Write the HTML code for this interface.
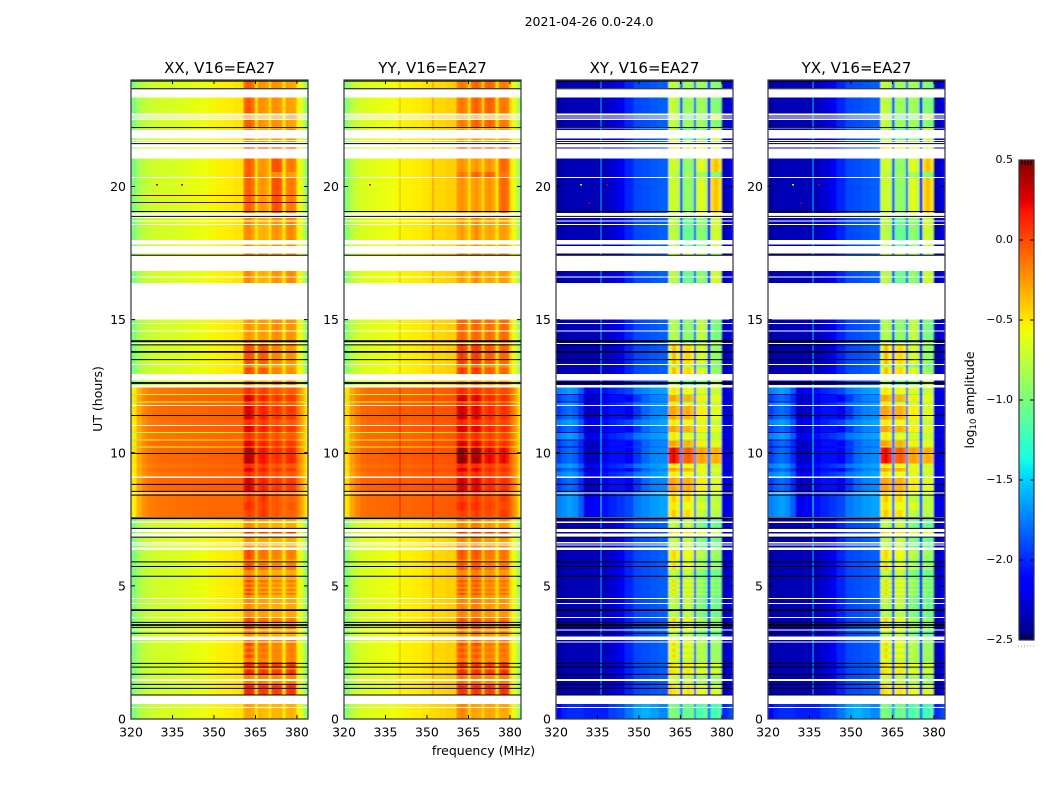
<!DOCTYPE html>
<html><head><meta charset="utf-8"><title>2021-04-26 0.0-24.0</title>
<style>
html,body{margin:0;padding:0;background:#fff;width:1050px;height:800px;overflow:hidden}
svg{display:block}
text{font-family:"DejaVu Sans","Liberation Sans",sans-serif;fill:#000}
</style></head>
<body>
<svg id="fig" width="1050" height="800" viewBox="0 0 1050 800" xmlns="http://www.w3.org/2000/svg">
<defs><filter id="soften" x="-2%" y="-2%" width="104%" height="104%"><feGaussianBlur stdDeviation="0.8 0.2"/></filter></defs>
<text x="589" y="26" font-size="12.5" text-anchor="middle">2021-04-26 0.0-24.0</text>
<text x="483.5" y="755" font-size="12.5" text-anchor="middle">frequency (MHz)</text>
<text transform="translate(102,399) rotate(-90)" font-size="12.5" text-anchor="middle">UT (hours)</text>
<text transform="translate(974,400) rotate(-90)" font-size="12.5" text-anchor="middle">log<tspan font-size="8.5" dy="2">10</tspan><tspan dy="-2"> amplitude</tspan></text>
</svg>
<script>
// ---- categories ----
const panelTitles = ["XX, V16=EA27","YY, V16=EA27","XY, V16=EA27","YX, V16=EA27"];
// channel edges, MHz
const channelEdges = [320,322,324,326,328,330,333,336,339,342,345,348,351,354,357,360.7,
  362,363.4,364.8,365.8,367.2,368.6,369.9,370.6,372,373.4,374.8,375.9,377.2,378.6,379.9,381,382,383,384];
const xTickLabels = [320,335,350,365,380];
const yTickLabels = [0,5,10,15,20];
const cbarTickLabels = [0.5,0,-0.5,-1,-1.5,-2,-2.5];

// ---- values: log10 amplitude in hundredths of a dex ----
// continuum: 15 channels below 360.7 MHz, then 4 channels above 379.9 MHz
// base index 0 quiet, 1 daytime, 2 faint, 3 daytime dim
const xxBase = [
 [-100,-84,-76,-72,-70,-68,-67,-65,-63,-61,-59,-56,-54,-52,-50,-54,-62,-76,-96],
 [-50,-30,-19,-14,-12,-11,-10,-9,-9,-8,-8,-7,-7,-6,-6,-14,-24,-34,-48],
 [-100,-84,-76,-72,-70,-68,-67,-65,-63,-61,-59,-56,-54,-52,-50,-54,-62,-76,-96],
 [-53,-33,-22,-17,-15,-14,-13,-12,-12,-11,-11,-10,-10,-9,-9,-17,-27,-37,-51]];
const yyBase = [
 [-96,-78,-70,-66,-64,-62,-60,-58,-56,-54,-52,-50,-47,-45,-43,-48,-58,-72,-92],
 [-46,-26,-16,-10,-8,-8,-7,-6,-6,-6,-5,-4,-4,-3,-2,-8,-18,-30,-46],
 [-96,-78,-70,-66,-64,-62,-60,-58,-56,-54,-52,-50,-47,-45,-43,-48,-58,-72,-92],
 [-49,-29,-19,-13,-11,-11,-10,-9,-9,-9,-8,-7,-7,-6,-5,-11,-21,-33,-49]];
const xyBase = [
 [-242,-238,-236,-236,-236,-236,-236,-234,-228,-220,-202,-192,-190,-187,-184,-240,-235,-230,-215],
 [-195,-185,-180,-185,-200,-232,-232,-220,-208,-208,-218,-197,-182,-174,-172,-225,-228,-228,-222],
 [-215,-205,-200,-200,-200,-205,-205,-205,-195,-190,-178,-165,-160,-165,-172,-205,-200,-195,-190],
 [-175,-170,-165,-170,-185,-222,-215,-208,-202,-197,-192,-177,-172,-167,-164,-225,-225,-225,-218]];
// which continuum each spectrum uses
const spectrumBase = [2,0,0,0,0,3,1,3,1,0,0,0,0,0];
// subband values: 3 channels, gap, 3 channels, gap, 3 channels, gap, 3 channels
const xxBands = [
 [-30,-28,-32,-52,-34,-36,-38,-52,-34,-36,-34,-52,-34,-32,-36],
 [8,12,6,-50,2,6,2,-50,2,5,0,-50,2,8,6],
 [-20,-15,-22,-52,-18,-20,-22,-52,-22,-20,-24,-52,-22,-18,-20],
 [-5,2,-8,-52,-15,-12,-15,-52,-20,-18,-22,-52,-20,-15,-18],
 [-24,-20,-26,-52,-30,-28,-30,-52,-34,-32,-34,-52,-32,-30,-32],
 [-4,5,0,-14,2,10,2,-14,-6,-2,-8,-14,-10,-8,-10],
 [22,28,20,-12,10,15,8,-12,2,8,4,-12,2,6,4],
 [5,10,4,-14,0,5,0,-14,-6,-2,-6,-14,-8,-4,-6],
 [32,38,28,-8,15,20,12,-8,5,10,6,-8,8,12,8],
 [-28,-24,-28,-52,-28,-26,-30,-52,-24,-20,-24,-52,-24,-22,-26],
 [-22,-20,-28,-52,-34,-32,-36,-52,-26,-22,-28,-52,-22,-18,-24],
 [-10,-6,-12,-50,-26,-24,-28,-50,-4,0,-6,-50,-18,-14,-18],
 [-8,-4,-12,-50,-22,-24,-28,-50,-22,-22,-26,-50,-26,-28,-30],
 [-4,0,-6,-50,-8,-4,-10,-50,-20,-18,-22,-50,-24,-22,-26]];
const yyBands = [
 [-22,-18,-22,-48,-28,-30,-32,-48,-30,-28,-30,-48,-32,-30,-32],
 [4,10,4,-46,2,8,2,-46,0,6,0,-46,2,8,4],
 [-18,-12,-20,-46,-16,-14,-20,-46,-22,-20,-24,-46,-20,-16,-20],
 [-8,-2,-10,-46,-8,-2,-10,-46,-16,-14,-18,-46,-14,-12,-16],
 [-22,-18,-24,-48,-18,-16,-22,-48,-26,-24,-28,-48,-26,-24,-28],
 [0,5,0,-10,0,6,0,-10,-2,0,-4,-10,2,6,2],
 [25,30,22,-8,20,25,18,-8,6,12,8,-8,4,10,6],
 [8,12,6,-10,6,10,4,-10,0,4,0,-10,-2,2,0],
 [42,48,38,-4,35,42,32,-4,20,25,18,-4,18,24,16],
 [-12,-8,-14,-48,-12,-8,-14,-48,-14,-10,-16,-48,-14,-10,-14],
 [-30,-26,-34,-50,-28,-20,-30,-50,-32,-28,-32,-50,-28,-26,-30],
 [-26,-22,-28,-50,-28,-24,-30,-50,-26,-22,-30,-50,-12,-8,-14],
 [-18,-14,-20,-48,-12,-6,-14,-48,-10,-6,-12,-48,-16,-14,-18],
 [0,6,-2,-46,2,6,0,-46,-8,-4,-10,-46,-12,-8,-12]];
const xyBands = [
 [-95,-100,-105,-170,-105,-110,-100,-170,-115,-120,-105,-175,-120,-125,-110],
 [-45,-50,-55,-205,-55,-50,-55,-205,-62,-58,-62,-210,-68,-62,-70],
 [-65,-70,-75,-205,-75,-72,-80,-205,-85,-80,-88,-210,-90,-88,-90],
 [-55,-45,-60,-205,-62,-58,-65,-205,-75,-78,-85,-210,-85,-88,-90],
 [-80,-75,-85,-205,-78,-72,-85,-205,-95,-100,-110,-210,-100,-110,-105],
 [-52,-40,-55,-185,-50,-45,-60,-185,-75,-75,-85,-190,-75,-80,-80],
 [-30,-28,-38,-185,-35,-32,-40,-185,-55,-52,-55,-190,-65,-62,-65],
 [-55,-50,-60,-185,-60,-58,-62,-185,-68,-62,-70,-190,-75,-72,-75],
 [15,22,10,-170,-10,-4,-12,-170,-30,-26,-32,-175,-35,-30,-36],
 [-85,-78,-88,-205,-95,-90,-100,-205,-80,-72,-82,-210,-98,-100,-105],
 [-75,-78,-85,-200,-110,-105,-110,-200,-95,-92,-100,-205,-72,-68,-75],
 [-72,-70,-75,-200,-95,-88,-98,-200,-68,-62,-72,-210,-48,-38,-50],
 [-70,-75,-85,-210,-92,-85,-92,-205,-88,-85,-92,-210,-95,-98,-100],
 [-62,-35,-55,-205,-50,-45,-55,-205,-70,-62,-72,-210,-88,-90,-95]];
// YX reads as the same picture as XY
const yxBase = xyBase;
const yxBands = xyBands;

// ---- time blocks (UT hours) and the spectrum each one shows ----
const A=0,B=1,C=2,D=3,E=4,F=5,G=6,H=7,I=8,J=9,K=10,L=11,M=12,N=13;
const rowStartUT = [0,.46,.90,1.30,1.50,1.65,1.85,1.95,2.15,2.30,2.42,2.52,2.64,2.74,2.92,
 3.09,3.37,3.52,3.64,3.84,4.10,4.35,4.55,4.65,4.73,4.81,4.89,4.97,5.05,5.13,5.23,5.60,5.85,6.00,
 6.44,6.56,6.65,6.97,7.17,7.42,
 7.58,7.85,8.15,8.51,9.10,9.30,9.42,9.60,10.20,10.24,10.46,10.50,10.74,10.78,11.04,11.25,11.80,11.89,11.93,12.17,12.21,
 12.55,12.95,13.20,13.33,13.79,14.12,14.19,14.60,14.87,
 16.38,16.62,17.43,17.77,18.00,18.60,18.72,
 19.00,20.35,20.55,21.43,21.67,21.75,22.13,22.24,22.56,22.64,22.75,23.70];
const rowEndUT = [.42,.56,1.30,1.43,1.65,1.85,1.95,2.15,2.30,2.42,2.52,2.64,2.74,2.88,2.97,
 3.33,3.52,3.64,3.80,4.10,4.31,4.51,4.65,4.73,4.81,4.89,4.97,5.05,5.13,5.23,5.60,5.85,6.00,6.34,
 6.51,6.59,6.83,7.02,7.37,7.52,
 7.85,8.15,8.47,9.05,9.30,9.42,9.60,10.20,10.24,10.46,10.50,10.74,10.78,11.00,11.25,11.76,11.89,11.93,12.17,12.21,12.46,
 12.72,13.20,13.29,13.79,14.08,14.19,14.56,14.83,15.00,
 16.58,16.82,17.49,17.82,18.56,18.68,18.82,
 20.31,20.55,21.06,21.47,21.71,21.81,22.18,22.49,22.59,22.67,23.35,24.00];
const rowSpectrum = [A,A,B,C,C,B,C,B,C,D,C,D,C,D,C,
 E,D,E,D,E,E,E,E,D,E,D,E,D,E,D,E,D,E,D,
 E,E,E,B,E,E,
 F,H,F,G,H,G,H,I,K,G,K,H,K,G,H,G,H,K,G,K,H,
 K,N,E,N,N,K,J,J,J,
 K,K,C,K,K,K,K,
 L,M,L,B,C,K,K,M,K,K,M,M];

// ---- flagged lines, UT hours ----
const blackLinesUT = [.90,1.15,1.30,1.68,1.95,2.09,3.22,3.44,3.63,5.36,5.73,5.90,6.83,7.16,8.41,8.55,8.81,9.97,11.40,13.50,14.05,17.42,18.88,19.06,21.61,22.21,23.67,23.96];
const thickLinesUT = [3.53,4.09,7.54,12.62,13.79,14.19];
const xxDarkLinesUT = [19.40,19.66];
// narrowband interference: panel, frequency, lift above the local level
const rfiPanel = [1,1,2,3];
const rfiFreq = [340,352,336,336];
const rfiLift = [25,25,75,78];
// isolated spots
const spotPanel = [0,0,1,2,2,2,3,3,3];
const spotFreq = [329,338,329,328.7,338,331.7,328.7,338,331.7];
const spotUT = [20.09,20.09,20.09,20.09,20.09,19.4,20.09,20.09,19.4];
const spotLevel = [30,30,20,-80,30,30,-80,30,30];

// ---- axes ----
const panelLeft = [131,344,556,768];
const panelW = 177, plotTop = 80, plotBottom = 719;
const xScale = (p,f) => panelLeft[p] + (f-320)*panelW/64;
const yScale = ut => plotBottom - ut*(plotBottom-plotTop)/24;
const cbarScale = v => 640 - (v+2.5)*160;
const clamp = x => Math.max(0,Math.min(1,x));
const jetR = [[0,0],[.35,0],[.66,1],[.89,1],[1,.5]];
const jetG = [[0,0],[.125,0],[.375,1],[.64,1],[.91,0],[1,0]];
const jetB = [[0,.5],[.11,1],[.34,1],[.65,0],[1,0]];
function seg(tbl,t){
  for(let i=1;i<tbl.length;i++){
    if(t<=tbl[i][0]) return tbl[i-1][1]+(tbl[i][1]-tbl[i-1][1])*(t-tbl[i-1][0])/(tbl[i][0]-tbl[i-1][0]);
  }
  return tbl[tbl.length-1][1];
}
function jet(v){
  const t = clamp((v+2.5)/3);
  return `rgb(${Math.round(seg(jetR,t)*255)},${Math.round(seg(jetG,t)*255)},${Math.round(seg(jetB,t)*255)})`;
}
const NS = "http://www.w3.org/2000/svg";
const fig = document.getElementById("fig");
const defs = fig.querySelector("defs");
function mk(tag,parent,attrs,txt){
  const e = document.createElementNS(NS,tag);
  for(const k in attrs) e.setAttribute(k,attrs[k]);
  if(txt!==undefined) e.textContent = txt;
  parent.appendChild(e);
  return e;
}
function cellValue(bases,bands,spec,c){
  const base = bases[spectrumBase[spec]];
  if(c<15) return base[c];
  if(c<30) return bands[spec][c-15];
  return base[c-15];
}
const panelBases = [xxBase,yyBase,xyBase,yxBase];
const panelBands = [xxBands,yyBands,xyBands,yxBands];
const panelKeys = ["xx","yy","xy","yx"];

panelTitles.forEach((title,p)=>{
  const g = mk("g",fig,{});
  
  
  const clip = mk("clipPath",defs,{id:"clip"+p});
  mk("rect",clip,{x:panelLeft[p],y:plotTop,width:panelW,height:plotBottom-plotTop});
  const wrap = mk("g",g,{"clip-path":"url(#clip"+p+")"});
  
  
  const heat = mk("g",wrap,{"shape-rendering":"crispEdges",filter:"url(#soften)"});
  
  
  const over = mk("g",wrap,{"shape-rendering":"crispEdges"});
  
  
  rowSpectrum.forEach((spec,r)=>{
    const y0 = yScale(rowEndUT[r]), y1 = yScale(rowStartUT[r]);
    for(let c=0;c<channelEdges.length-1;c++){
      const x0 = xScale(p,channelEdges[c]), x1 = xScale(p,channelEdges[c+1]);
      const cell = mk("rect",heat,{x:x0,y:y0,width:x1-x0,height:Math.max(y1-y0,1),fill:jet(cellValue(panelBases[p],panelBands[p],spec,c)/100)});
      
      
    }
    rfiPanel.forEach((rp,i)=>{
      if(rp!==p || rowStartUT[r]<0.9) return;
      let c = 0;
      while(channelEdges[c+1]<=rfiFreq[i]) c++;
      const v = cellValue(panelBases[p],panelBands[p],spec,c)+rfiLift[i];
      const line = mk("rect",over,{x:xScale(p,rfiFreq[i]),y:y0,width:1,height:Math.max(y1-y0,1),fill:jet(v/100)});
      
      
    });
  });
  spotPanel.forEach((sp,i)=>{
    if(sp!==p) return;
    const s = mk("rect",over,{x:xScale(p,spotFreq[i]),y:yScale(spotUT[i]),width:2,height:1.5,fill:jet(spotLevel[i]/100)});
    
    
  });
  const L = panelLeft[p], R = L+panelW;
  if(p===0) xxDarkLinesUT.forEach(ut=>{
    const l = mk("line",g,{x1:L,x2:R,y1:yScale(ut),y2:yScale(ut),stroke:"#7a0000","stroke-width":1});
    
    
  });
  blackLinesUT.forEach(ut=>{
    const l = mk("line",g,{x1:L,x2:R,y1:yScale(ut),y2:yScale(ut),stroke:"#000","stroke-width":1});
    
    
  });
  thickLinesUT.forEach(ut=>{
    const l = mk("line",g,{x1:L,x2:R,y1:yScale(ut),y2:yScale(ut),stroke:"#000","stroke-width":1.8});
    
    
  });
  xTickLabels.forEach(f=>{
    const x = xScale(p,f);
    const t1 = mk("line",g,{x1:x,x2:x,y1:plotBottom,y2:plotBottom-4,stroke:"#000","stroke-width":1});
    
    
    const t2 = mk("line",g,{x1:x,x2:x,y1:plotTop,y2:plotTop+4,stroke:"#000","stroke-width":1});
    
    
    const lab = mk("text",g,{x:x,y:736.5,"font-size":12.5,"text-anchor":"middle"},String(f));
    
    
  });
  yTickLabels.forEach(u=>{
    const y = yScale(u);
    const t1 = mk("line",g,{x1:L,x2:L+4,y1:y,y2:y,stroke:"#000","stroke-width":1});
    
    
    const t2 = mk("line",g,{x1:R,x2:R-4,y1:y,y2:y,stroke:"#000","stroke-width":1});
    
    
    const lab = mk("text",g,{x:L-5,y:y+4.5,"font-size":12.5,"text-anchor":"end"},String(u));
    
    
  });
  const frame = mk("rect",g,{x:L,y:plotTop,width:panelW,height:plotBottom-plotTop,fill:"none",stroke:"#333","stroke-width":1.2});
  
  
  const ttl = mk("text",g,{x:L+panelW/2,y:73,"font-size":15,"text-anchor":"middle"},title);
  
  
});

// ---- colorbar ----
const cb = mk("g",fig,{});


const cbRamp = mk("g",cb,{"shape-rendering":"crispEdges"});


for(let i=0;i<240;i++){
  const v = -2.5+i*3/240;
  const s = mk("rect",cbRamp,{x:1019,y:cbarScale(v)-2,width:15,height:2.2,fill:jet(v)});
  
  
}
cbarTickLabels.forEach(v=>{
  const y = cbarScale(v);
  const t1 = mk("line",cb,{x1:1019,x2:1023,y1:y,y2:y,stroke:"#000","stroke-width":1});
  
  
  const t2 = mk("line",cb,{x1:1034,x2:1030,y1:y,y2:y,stroke:"#000","stroke-width":1});
  
  
  const label = (v<0?"\u2212":"")+Math.abs(v).toFixed(1);
  const lab = mk("text",cb,{x:1013,y:y+3,"font-size":11,"text-anchor":"end"},label);
  
  
});
[1022,1025,1028,1031].forEach(x=>{
  const a = mk("line",cb,{x1:x,x2:x,y1:160,y2:165,stroke:"#000","stroke-width":1});
  
  
  const b = mk("line",cb,{x1:x,x2:x,y1:640,y2:635,stroke:"#000","stroke-width":1});
  
  
});
const cbFrame = mk("rect",cb,{x:1019,y:160,width:15,height:480,fill:"none",stroke:"#333","stroke-width":1.2});


const cbDots = mk("line",cb,{x1:1018,x2:1034,y1:646,y2:646,stroke:"#999","stroke-width":1,"stroke-dasharray":"1 2"});


</script>
</body></html>
